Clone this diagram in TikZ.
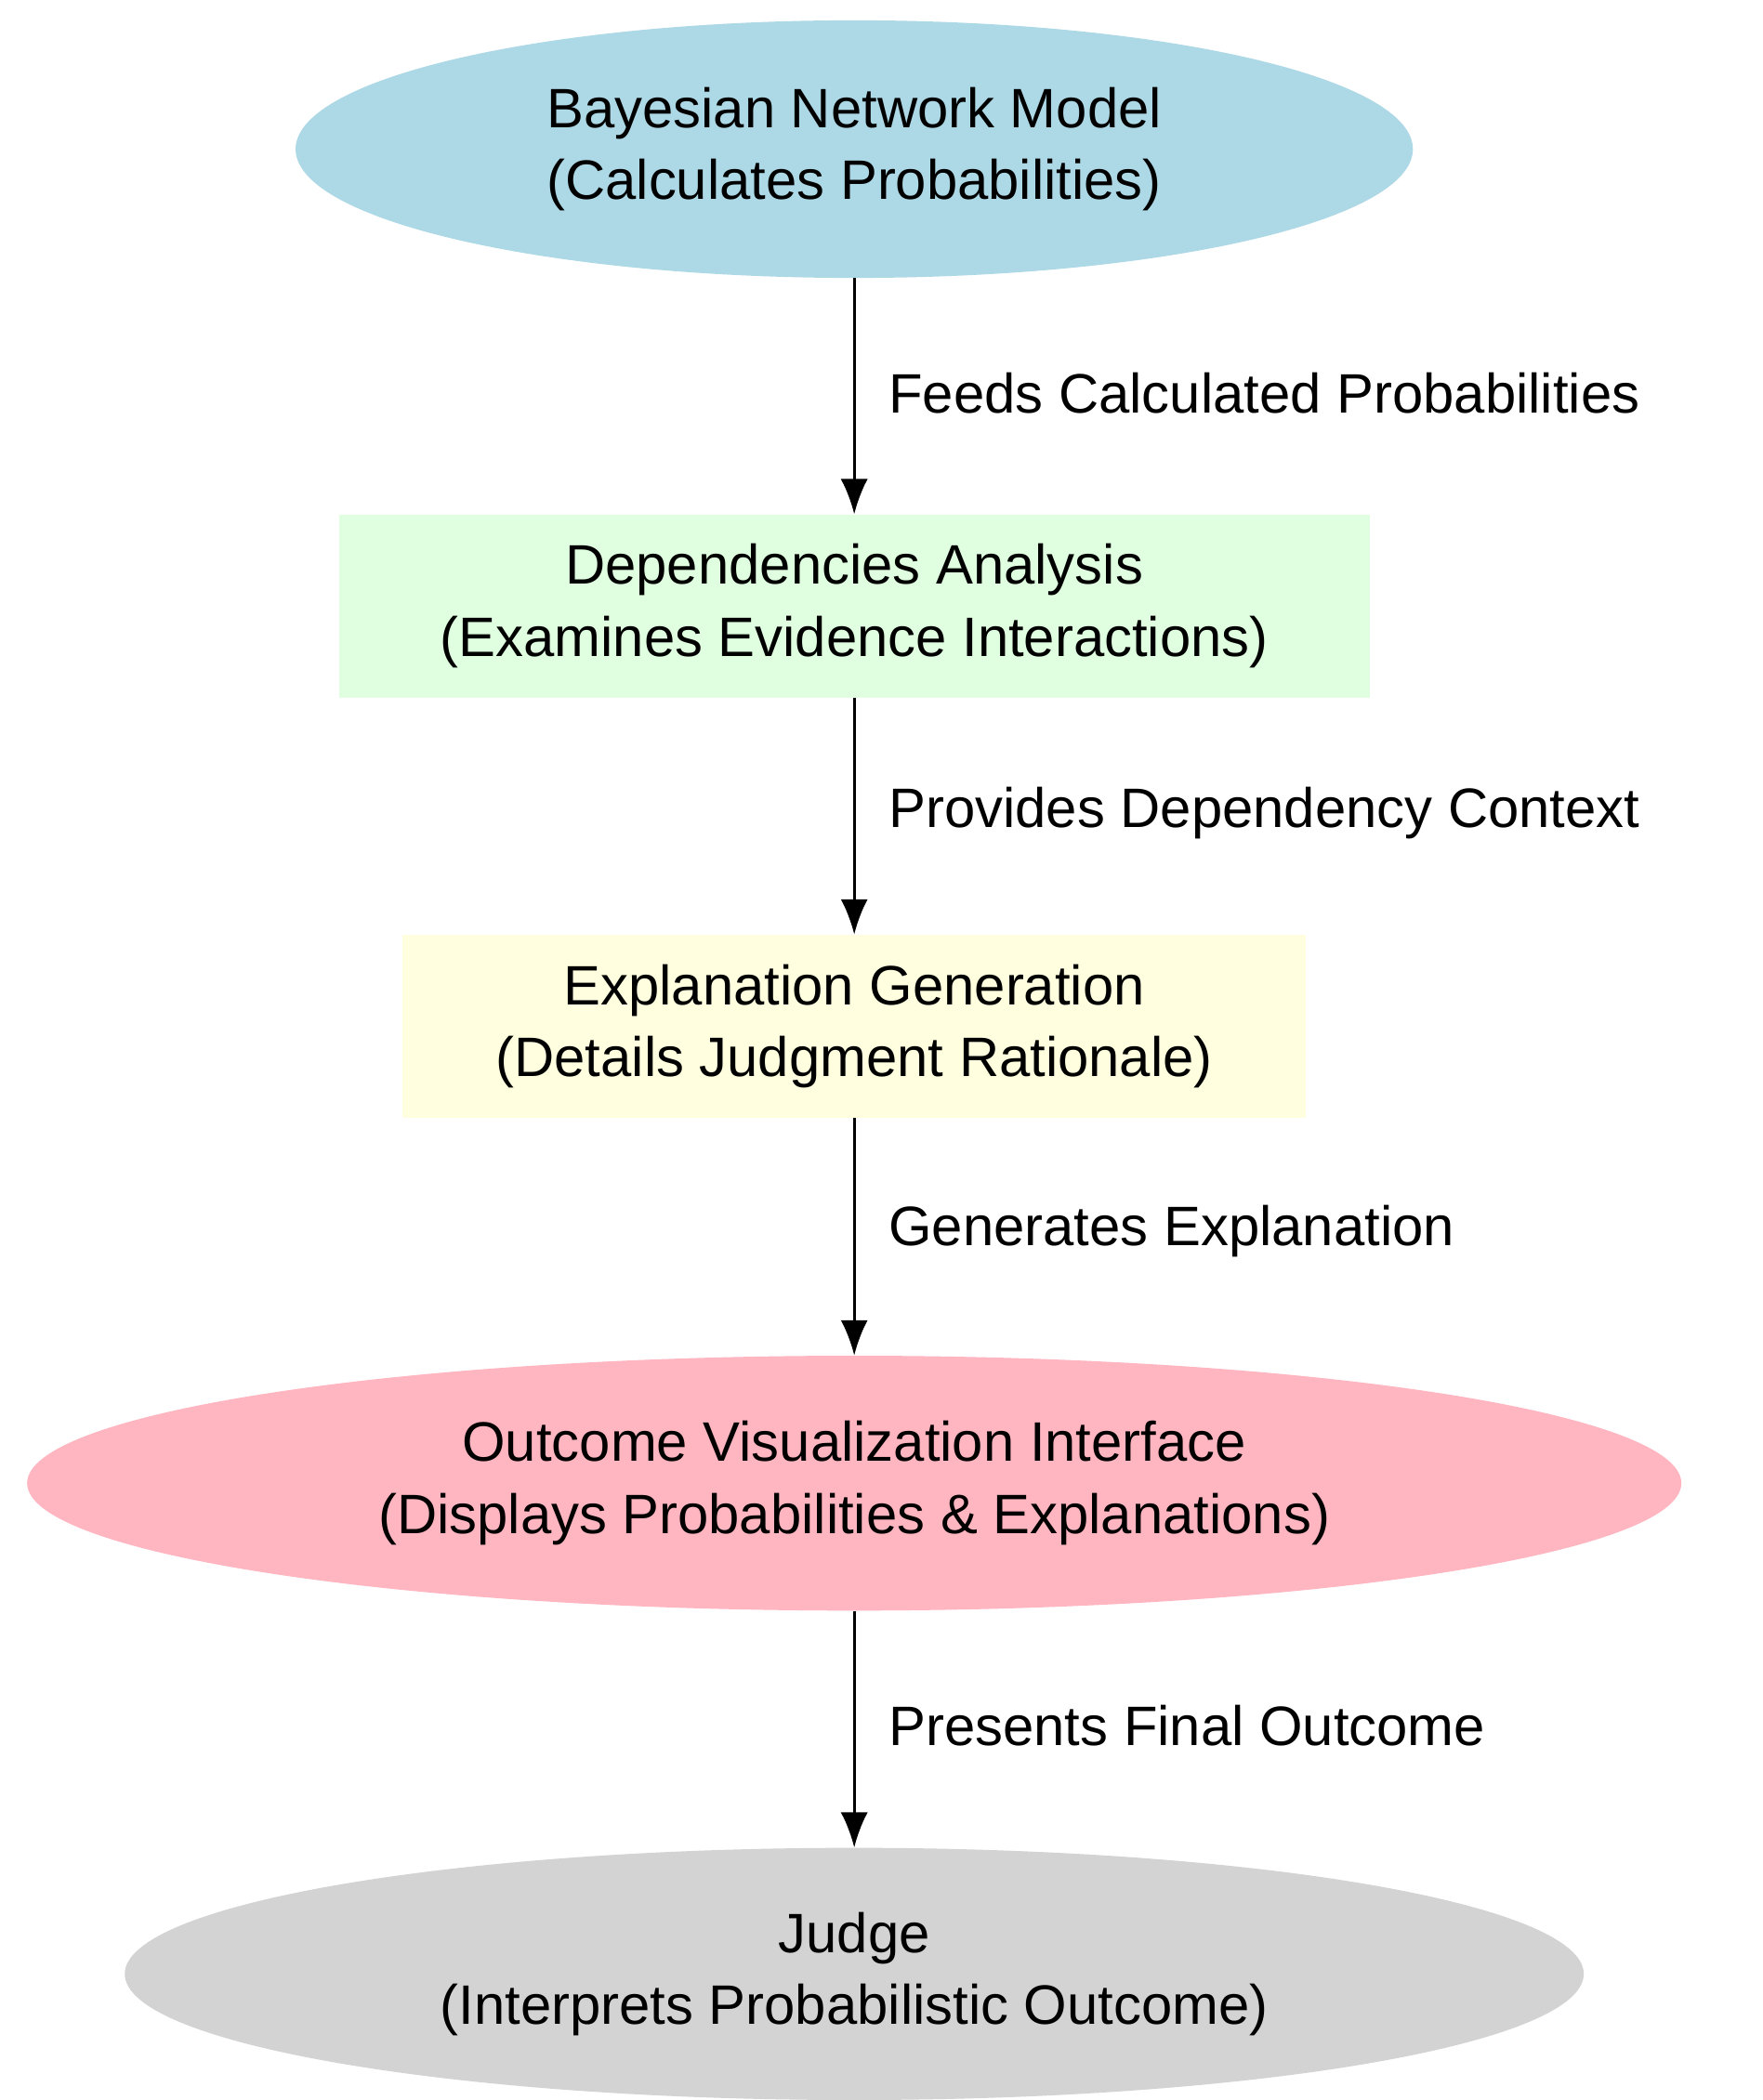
\documentclass[tikz,border=0pt]{standalone}
\usepackage{fontspec}
\setmainfont{Liberation Sans}
\usetikzlibrary{arrows.meta,shapes.geometric,positioning}
\tikzset{every picture/.style={
  >={Latex[length=26pt,width=20pt]}      % Filled arrow tips.
  }
}

\begin{document}
\begin{tikzpicture}[x=1pt,y=-1pt,
    oval/.style={               % Elliptic nodes.
      ellipse,
      align=center,
      inner sep=0pt,
      font=\fontsize{41}{53}\selectfont
    },
    stage/.style={              % Rectangular nodes.
      rectangle,
      align=center,
      inner sep=0pt,
      minimum height=135pt,
      font=\fontsize{41}{53}\selectfont
    },
    lbl/.style={                % Edge label text.
      anchor=west,
      font=\fontsize{41}{49}\selectfont
    },
    flow/.style={
      ->,
      line width=2pt
    }]
    \useasboundingbox (0,0) rectangle (1300,1549);

    % The stages of the pipeline.
    \node[oval,fill={rgb,255:red,173;green,216;blue,230},
      minimum width=824pt,minimum height=190pt] (bnm) at (630,110)
      {Bayesian Network Model\\(Calculates Probabilities)};
    \node[stage,fill={rgb,255:red,224;green,255;blue,224},
      minimum width=760pt] (dep) at (630,447)
      {Dependencies Analysis\\(Examines Evidence Interactions)};
    \node[stage,fill={rgb,255:red,255;green,255;blue,224},
      minimum width=666pt] (expl) at (630,757)
      {Explanation Generation\\(Details Judgment Rationale)};
    \node[oval,fill={rgb,255:red,255;green,182;blue,193},
      minimum width=1220pt,minimum height=188pt] (ovi) at (630,1094)
      {Outcome Visualization Interface\\(Displays Probabilities \& Explanations)};
    \node[oval,fill={rgb,255:red,211;green,211;blue,211},
      minimum width=1076pt,minimum height=186pt] (judge) at (630,1456)
      {Judge\\(Interprets Probabilistic Outcome)};

    % Connect the stages.
    \draw[flow] (bnm) -- (dep);
    \draw[flow] (dep) -- (expl);
    \draw[flow] (expl) -- (ovi);
    \draw[flow] (ovi) -- (judge);

    % Label the connections.
    \node[lbl] (l1) at (652,290) {Feeds Calculated Probabilities};
    \node[lbl] (l2) at (652,600) {Provides Dependency Context};
    \node[lbl] (l3) at (652,908) {Generates Explanation};
    \node[lbl] (l4) at (652,1273) {Presents Final Outcome};
\end{tikzpicture}
\end{document}
